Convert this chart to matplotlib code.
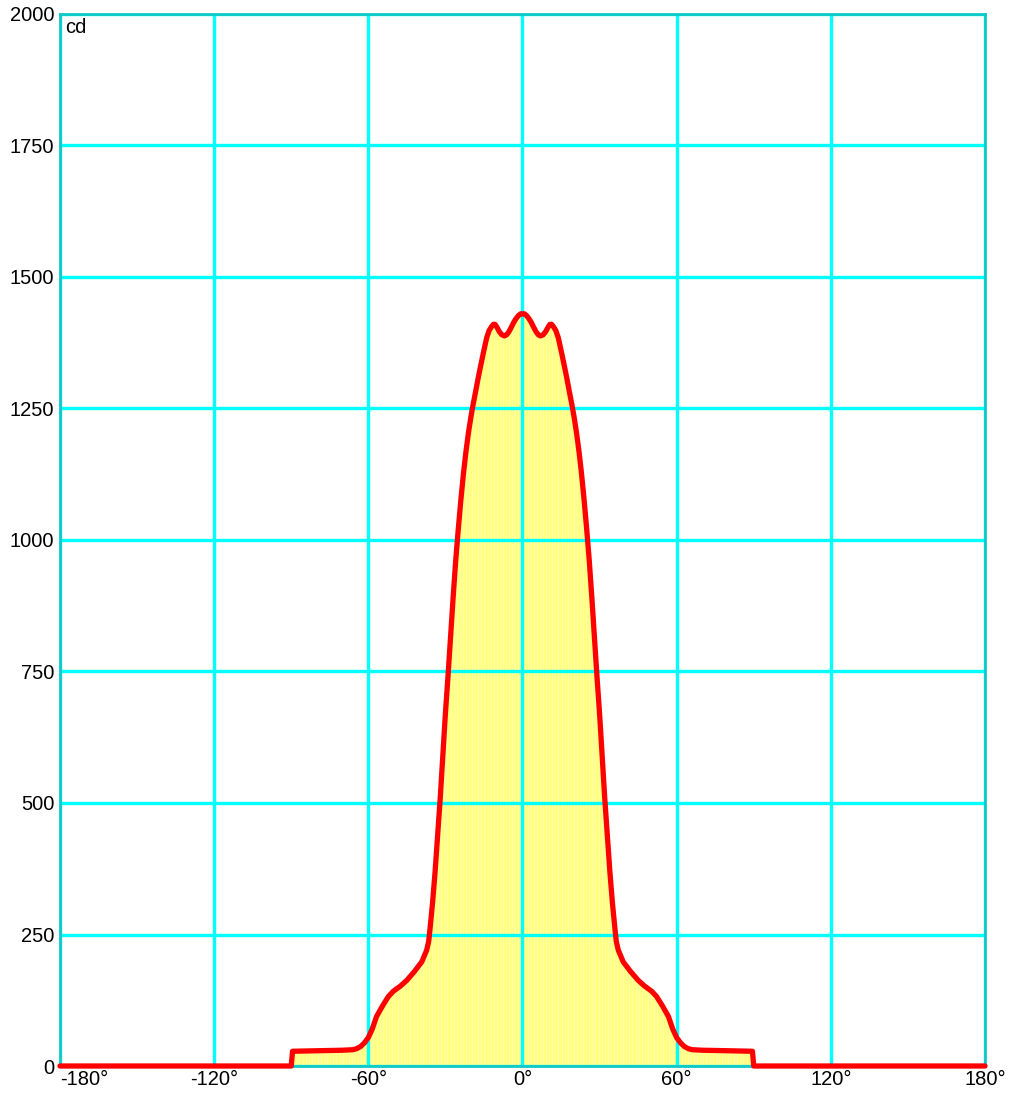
import matplotlib.pyplot as plt
import numpy as np

plt.rcParams['font.family'] = ['Liberation Sans', 'DejaVu Sans']

# angle (deg) and luminous intensity (cd) (left half)
half_angles = [-180, -90, -89.5, -80, -70, -66, -64.5, -63, -61.5, -60, -58.5, -56.8, -54.5,
               -52.2, -50.3, -47.5, -45, -42, -39.2, -37.3, -36.5, -36, -35, -34, -33, -32,
               -31, -30, -29, -28, -27, -26, -25, -24, -23, -22, -21, -20, -19.2, -18.2,
               -17.2, -16.2, -15.3, -14.5, -13.9, -13, -12, -11.3, -10.7, -10, -9, -8,
               -7, -6.2, -5.4, -4.5, -3.5, -2.5, -1.5, -0.7, 0]
half_candela = [0, 0, 28, 29, 30, 31, 33, 37, 44, 54, 70, 94, 114,
                132, 142, 152, 163, 180, 198, 220, 237, 260, 310, 370, 440, 510,
                590, 670, 740, 815, 890, 960, 1020, 1075, 1125, 1168, 1205, 1236, 1258, 1283,
                1309, 1333, 1354, 1372, 1385, 1398, 1406, 1410, 1410, 1405, 1396, 1390,
                1388, 1390, 1395, 1403, 1413, 1421, 1427, 1430, 1430]

angles = half_angles + [-a for a in half_angles[-2::-1]]
candela = half_candela + half_candela[-2::-1]

x_ticks = [-180, -120, -60, 0, 60, 120, 180]
y_ticks = [0, 250, 500, 750, 1000, 1250, 1500, 1750, 2000]

fig = plt.figure(figsize=(10.11, 10.93), dpi=100)
ax = fig.add_axes([0.0593, 0.0247, 0.915, 0.9625])

ax.fill_between(angles, candela, 0, color='#ffff80', linewidth=0, zorder=1)
for xi in np.arange(-88, 90, 1.2):
    ax.axvline(xi, color='#ffffb0', linewidth=0.6, zorder=1.5)
ax.fill_between(angles, candela, 2100, color='white', linewidth=0, zorder=1.6)

ax.set_xlim(-180, 180)
ax.set_ylim(0, 2000)
ax.set_xticks(x_ticks)
ax.set_yticks(y_ticks)
ax.set_xticklabels([f'{t}°' for t in x_ticks])
ax.grid(True, color='#00ffff', linewidth=2.4, zorder=2)
ax.set_axisbelow(False)
ax.tick_params(length=0, labelsize=14.5, pad=4)
ax.tick_params(axis='x', pad=3)
ax.get_xticklabels()[0].set_horizontalalignment('left')

for s in ax.spines.values():
    s.set_color('#10c8c8')
    s.set_linewidth(2)
    s.set_zorder(3)

ax.plot(angles, candela, color='#ff0000', linewidth=3.8, solid_joinstyle='round',
        solid_capstyle='round', zorder=4, clip_on=False)
ax.text(0.006, 0.996, 'cd', transform=ax.transAxes, fontsize=14.5, va='top', ha='left')

fig.savefig('out.png', dpi=100)
